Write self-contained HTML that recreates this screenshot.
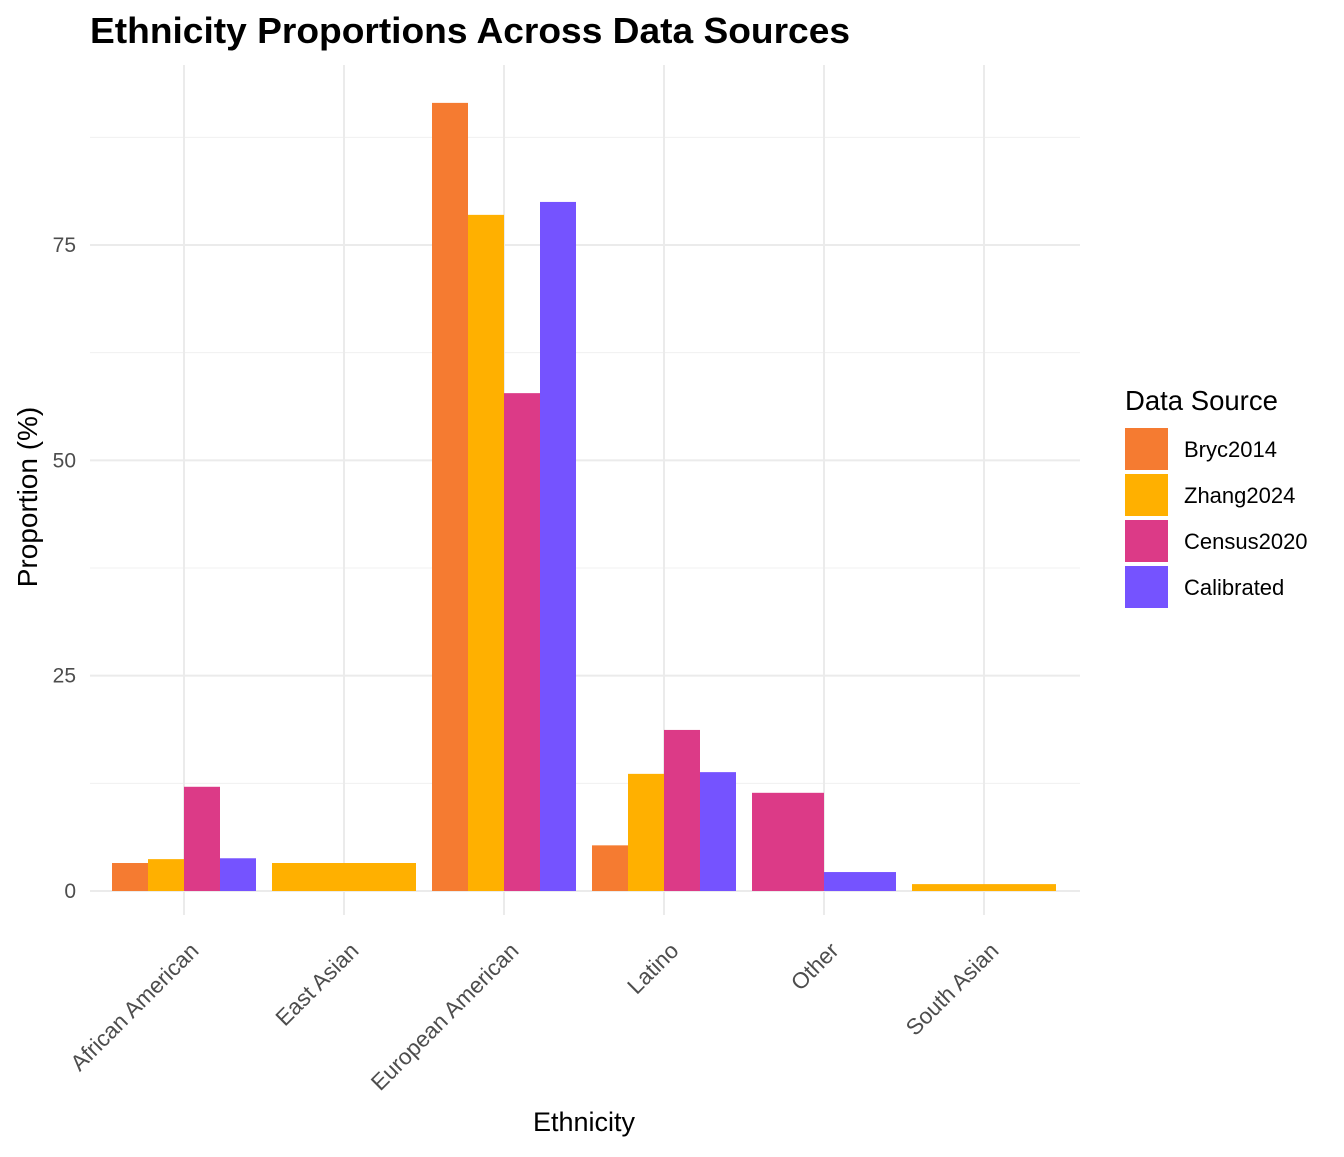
<!DOCTYPE html>
<html><head><meta charset="utf-8"><style>
body{margin:0;background:#fff;}
svg text{font-family:"Liberation Sans",Arial,sans-serif;}
</style></head><body>
<svg id="chart" width="1344" height="1152" xmlns="http://www.w3.org/2000/svg">
<rect width="1344" height="1152" fill="#fff"/>
<text x="90" y="43" font-size="36" font-weight="bold" fill="#000" textLength="760" lengthAdjust="spacingAndGlyphs">Ethnicity Proportions Across Data Sources</text>
<g id="grid"></g><g id="bars"></g><g id="axes"></g><g id="legend"></g>
<text x="584" y="1131" font-size="27" text-anchor="middle">Ethnicity</text>
<text transform="translate(37,497) rotate(-90)" font-size="28" text-anchor="middle">Proportion (%)</text>
</svg>
<script>
const categories=["African American","East Asian","European American","Latino","Other","South Asian"];
const seriesNames=["Bryc2014","Zhang2024","Census2020","Calibrated"];
const bryc=[3.25,null,91.5,5.3,null,null];
const zhang=[3.7,3.25,78.5,13.6,null,0.8];
const census=[12.1,null,57.8,18.7,11.4,null];
const calibrated=[3.8,null,80.0,13.8,2.2,null];
const yTicks=[0,25,50,75];
const yMinor=[12.5,37.5,62.5,87.5];
const colors=["#F57B31","#FFB000","#DC3A87","#7553FF"];
const series=[bryc,zhang,census,calibrated];
const NS="http://www.w3.org/2000/svg";
const px0=90,px1=1080,pTop=65,pBot=915;
const y=v=>891-v*(646/75);
const xc=i=>184+160*i;
function mk(t,a,p){const e=document.createElementNS(NS,t);for(const k in a)e.setAttribute(k,a[k]);document.getElementById(p).appendChild(e);return e;}
yMinor.forEach(v=>{const l=mk("line",{x1:px0,x2:px1,y1:y(v),y2:y(v),stroke:"#f0f0f0","stroke-width":1},"grid");

});
yTicks.forEach(v=>{const l=mk("line",{x1:px0,x2:px1,y1:y(v),y2:y(v),stroke:"#ebebeb","stroke-width":2},"grid");


const t=mk("text",{x:76,y:y(v)+7,"font-size":21,fill:"#4d4d4d","text-anchor":"end"},"axes");t.textContent=v;

});
categories.forEach((c,i)=>{const l=mk("line",{x1:xc(i),x2:xc(i),y1:pTop,y2:pBot,stroke:"#ebebeb","stroke-width":2},"grid");


const t=mk("text",{transform:`translate(${xc(i)+16},${952}) rotate(-45)`,"font-size":22.5,fill:"#4d4d4d","text-anchor":"end"},"axes");t.textContent=c;


const present=series.map((s,k)=>k).filter(k=>series[k][i]!==null);
const w=144/present.length;
present.forEach((k,j)=>{const v=series[k][i];
const r=mk("rect",{x:xc(i)-72+j*w,y:y(v),width:w,height:891-y(v),fill:colors[k]},"bars");

});});
const lt=mk("text",{x:1125,y:410,"font-size":27.5},"legend");lt.textContent="Data Source";


seriesNames.forEach((n,k)=>{const yy=428+k*46;
const r=mk("rect",{x:1125,y:yy,width:43,height:42,fill:colors[k]},"legend");


const t=mk("text",{x:1184,y:yy+29,"font-size":22},"legend");t.textContent=n;

});
</script>
</body></html>
